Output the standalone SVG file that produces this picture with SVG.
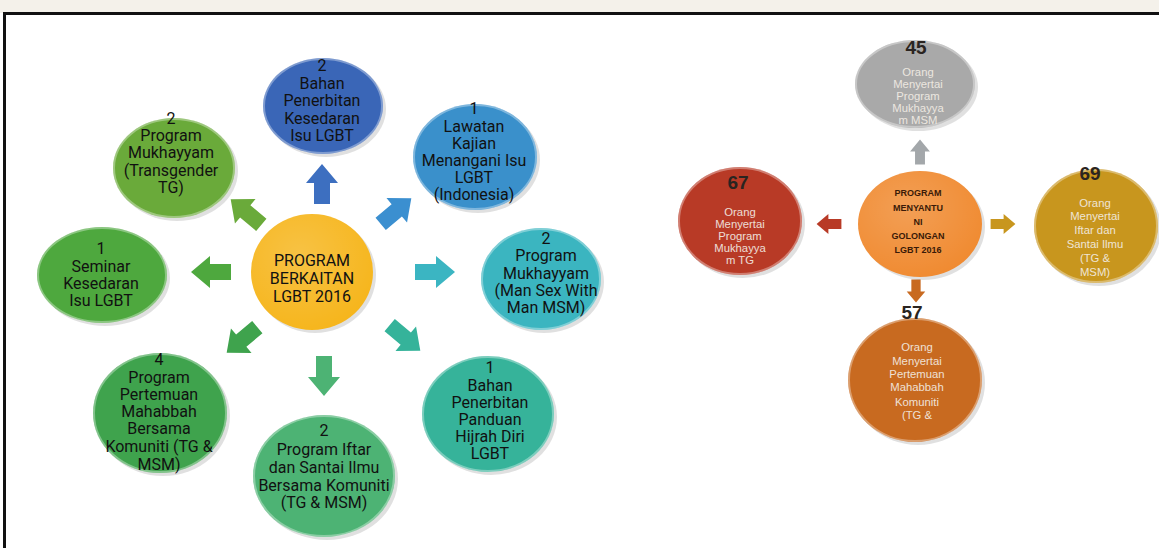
<svg xmlns="http://www.w3.org/2000/svg" width="1159" height="548" viewBox="0 0 1159 548">
<style>
.t{font-family:Roboto,"Liberation Sans",sans-serif;font-size:16px;fill:#111;text-anchor:middle}
.w{font-family:"Liberation Sans",Arial,sans-serif;font-size:11.3px;fill:#f4eee6;text-anchor:middle;opacity:0.9}
.n{font-family:"Liberation Sans",Arial,sans-serif;font-size:19px;font-weight:bold;fill:#2a2420;text-anchor:middle}
.c{font-family:"Liberation Sans",Arial,sans-serif;font-size:9px;font-weight:bold;fill:#3a1a08;text-anchor:middle}
.sh{fill:#000;opacity:0.12}
.rim{fill:none;stroke:#fff;stroke-opacity:0.35;stroke-width:2}
</style>
<defs>
<path id="arr" d="M-20,-8 H1 V-16 L20,0 L1,16 V8 H-20 Z"/>
<radialGradient id="hl" cx="0.4" cy="0.35" r="0.7">
<stop offset="0" stop-color="#fff" stop-opacity="0.18"/>
<stop offset="1" stop-color="#fff" stop-opacity="0"/>
</radialGradient>
</defs>
<rect x="0" y="0" width="1159" height="548" fill="#fff"/>
<rect x="0" y="0" width="1159" height="13" fill="#f4f1ea"/>
<rect x="4.5" y="13.5" width="1170" height="560" fill="none" stroke="#111" stroke-width="3"/>

<g id="connectors">
<use href="#arr" fill="#3d6fc0" transform="translate(322,184) rotate(-90)"/>
<use href="#arr" fill="#3b8fd0" transform="translate(396,211) rotate(-40)"/>
<use href="#arr" fill="#3bb5c2" transform="translate(435,272)"/>
<use href="#arr" fill="#35b39a" transform="translate(405,338) rotate(40)"/>
<use href="#arr" fill="#4db374" transform="translate(324,376) rotate(90)"/>
<use href="#arr" fill="#3fa34d" transform="translate(242,340) rotate(140)"/>
<use href="#arr" fill="#4ea83e" transform="translate(211,272) rotate(180)"/>
<use href="#arr" fill="#6aaa3a" transform="translate(246,212) rotate(-140)"/>
<use href="#arr" fill="#a3a7aa" transform="translate(920,152) rotate(-90) scale(0.62)"/>
<use href="#arr" fill="#b83a26" transform="translate(829,224) rotate(180) scale(0.62)"/>
<use href="#arr" fill="#c8961e" transform="translate(1003,224) scale(0.62)"/>
<use href="#arr" fill="#c86a20" transform="translate(916,291) rotate(90) scale(0.58)"/>
</g>

<g id="center-left">
<ellipse class="sh" cx="315" cy="275" rx="61" ry="58"/>
<ellipse cx="312" cy="272" rx="61" ry="58" fill="#f6b51b"/>
<ellipse cx="312" cy="272" rx="61" ry="58" fill="url(#hl)"/>
<text class="t" x="312" y="266">PROGRAM</text>
<text class="t" x="312" y="284">BERKAITAN</text>
<text class="t" x="312" y="302">LGBT 2016</text>
</g>

<g id="n-bahan-kesedaran">
<ellipse class="sh" cx="326" cy="109" rx="60" ry="48"/>
<ellipse cx="323" cy="106" rx="60" ry="48" fill="#3a66b7"/>
<ellipse class="rim" cx="323" cy="106" rx="59" ry="47"/>
<text class="t" x="322" y="71">2</text>
<text class="t" x="322" y="89">Bahan</text>
<text class="t" x="322" y="106">Penerbitan</text>
<text class="t" x="322" y="124">Kesedaran</text>
<text class="t" x="322" y="141">Isu LGBT</text>
</g>

<g id="n-lawatan">
<ellipse class="sh" cx="478" cy="160" rx="62" ry="53"/>
<ellipse cx="475" cy="157" rx="62" ry="53" fill="#3a90cb"/>
<ellipse class="rim" cx="475" cy="157" rx="61" ry="52"/>
<text class="t" x="474" y="114">1</text>
<text class="t" x="474" y="132">Lawatan</text>
<text class="t" x="474" y="149">Kajian</text>
<text class="t" x="474" y="166">Menangani Isu</text>
<text class="t" x="474" y="183">LGBT</text>
<text class="t" x="474" y="200">(Indonesia)</text>
</g>

<g id="n-mukhayyam-tg">
<ellipse class="sh" cx="177" cy="171" rx="61" ry="50"/>
<ellipse cx="174" cy="168" rx="61" ry="50" fill="#6aaa3a"/>
<ellipse class="rim" cx="174" cy="168" rx="60" ry="49"/>
<text class="t" x="171" y="124">2</text>
<text class="t" x="171" y="141">Program</text>
<text class="t" x="171" y="158">Mukhayyam</text>
<text class="t" x="171" y="176">(Transgender</text>
<text class="t" x="171" y="193">TG)</text>
</g>

<g id="n-seminar">
<ellipse class="sh" cx="105" cy="278" rx="65" ry="48"/>
<ellipse cx="102" cy="275" rx="65" ry="48" fill="#4ea83e"/>
<ellipse class="rim" cx="102" cy="275" rx="64" ry="47"/>
<text class="t" x="101" y="254">1</text>
<text class="t" x="101" y="272">Seminar</text>
<text class="t" x="101" y="289">Kesedaran</text>
<text class="t" x="101" y="306">Isu LGBT</text>
</g>

<g id="n-mukhayyam-msm">
<ellipse class="sh" cx="544" cy="282" rx="60" ry="51"/>
<ellipse cx="541" cy="279" rx="60" ry="51" fill="#3bb5c0"/>
<ellipse class="rim" cx="541" cy="279" rx="59" ry="50"/>
<text class="t" x="546" y="244">2</text>
<text class="t" x="546" y="261">Program</text>
<text class="t" x="546" y="279">Mukhayyam</text>
<text class="t" x="546" y="296">(Man Sex With</text>
<text class="t" x="546" y="313">Man MSM)</text>
</g>

<g id="n-pertemuan">
<ellipse class="sh" cx="163" cy="416" rx="67" ry="60"/>
<ellipse cx="160" cy="413" rx="67" ry="60" fill="#3fa34d"/>
<ellipse class="rim" cx="160" cy="413" rx="66" ry="59"/>
<text class="t" x="159" y="365">4</text>
<text class="t" x="159" y="383">Program</text>
<text class="t" x="159" y="400">Pertemuan</text>
<text class="t" x="159" y="417">Mahabbah</text>
<text class="t" x="159" y="434">Bersama</text>
<text class="t" x="159" y="452">Komuniti (TG &amp;</text>
<text class="t" x="159" y="470">MSM)</text>
</g>

<g id="n-iftar">
<ellipse class="sh" cx="327" cy="479" rx="71" ry="61"/>
<ellipse cx="324" cy="476" rx="71" ry="61" fill="#4db374"/>
<ellipse class="rim" cx="324" cy="476" rx="70" ry="60"/>
<text class="t" x="324" y="436">2</text>
<text class="t" x="324" y="455">Program Iftar</text>
<text class="t" x="324" y="473">dan Santai Ilmu</text>
<text class="t" x="324" y="491">Bersama Komuniti</text>
<text class="t" x="324" y="508">(TG &amp; MSM)</text>
</g>

<g id="n-panduan">
<ellipse class="sh" cx="491" cy="417" rx="66" ry="58"/>
<ellipse cx="488" cy="414" rx="66" ry="58" fill="#36b39a"/>
<ellipse class="rim" cx="488" cy="414" rx="65" ry="57"/>
<text class="t" x="490" y="373">1</text>
<text class="t" x="490" y="391">Bahan</text>
<text class="t" x="490" y="408">Penerbitan</text>
<text class="t" x="490" y="425">Panduan</text>
<text class="t" x="490" y="442">Hijrah Diri</text>
<text class="t" x="490" y="459">LGBT</text>
</g>

<g id="center-right">
<ellipse class="sh" cx="923" cy="227" rx="62" ry="53"/>
<ellipse cx="920" cy="224" rx="62" ry="53" fill="#f08a30"/>
<ellipse cx="920" cy="224" rx="62" ry="53" fill="url(#hl)"/>
<text class="c" x="918" y="196">PROGRAM</text>
<text class="c" x="918" y="211">MENYANTU</text>
<text class="c" x="918" y="225">NI</text>
<text class="c" x="918" y="239">GOLONGAN</text>
<text class="c" x="918" y="253">LGBT 2016</text>
</g>

<g id="r-msm">
<ellipse class="sh" cx="918" cy="87" rx="60" ry="44"/>
<ellipse cx="915" cy="84" rx="60" ry="44" fill="#a9a9a9"/>
<ellipse class="rim" cx="915" cy="84" rx="59" ry="43"/>
<text class="n" x="916" y="54">45</text>
<text class="w" x="918" y="76">Orang</text>
<text class="w" x="918" y="88">Menyertai</text>
<text class="w" x="918" y="100">Program</text>
<text class="w" x="918" y="112">Mukhayya</text>
<text class="w" x="918" y="124">m MSM</text>
</g>

<g id="r-tg">
<ellipse class="sh" cx="743" cy="224" rx="62" ry="54"/>
<ellipse cx="740" cy="221" rx="62" ry="54" fill="#b83a26"/>
<ellipse class="rim" cx="740" cy="221" rx="61" ry="53"/>
<text class="n" x="738" y="189">67</text>
<text class="w" x="740" y="216">Orang</text>
<text class="w" x="740" y="228">Menyertai</text>
<text class="w" x="740" y="240">Program</text>
<text class="w" x="740" y="252">Mukhayya</text>
<text class="w" x="740" y="264">m TG</text>
</g>

<g id="r-iftar">
<ellipse class="sh" cx="1099" cy="229" rx="62" ry="57"/>
<ellipse cx="1096" cy="226" rx="62" ry="57" fill="#c8961e"/>
<ellipse class="rim" cx="1096" cy="226" rx="61" ry="56"/>
<text class="n" x="1090" y="180">69</text>
<text class="w" x="1095" y="207">Orang</text>
<text class="w" x="1095" y="220">Menyertai</text>
<text class="w" x="1095" y="234">Iftar dan</text>
<text class="w" x="1095" y="248">Santai Ilmu</text>
<text class="w" x="1095" y="262">(TG &amp;</text>
<text class="w" x="1095" y="276">MSM)</text>
</g>

<g id="r-pertemuan">
<ellipse class="sh" cx="918" cy="383" rx="67" ry="62"/>
<ellipse cx="915" cy="380" rx="67" ry="62" fill="#c86a20"/>
<ellipse class="rim" cx="915" cy="380" rx="66" ry="61"/>
<text class="n" x="912" y="319">57</text>
<text class="w" x="917" y="351">Orang</text>
<text class="w" x="917" y="365">Menyertai</text>
<text class="w" x="917" y="378">Pertemuan</text>
<text class="w" x="917" y="391">Mahabbah</text>
<text class="w" x="917" y="406">Komuniti</text>
<text class="w" x="917" y="419">(TG &amp;</text>
</g>
</svg>
